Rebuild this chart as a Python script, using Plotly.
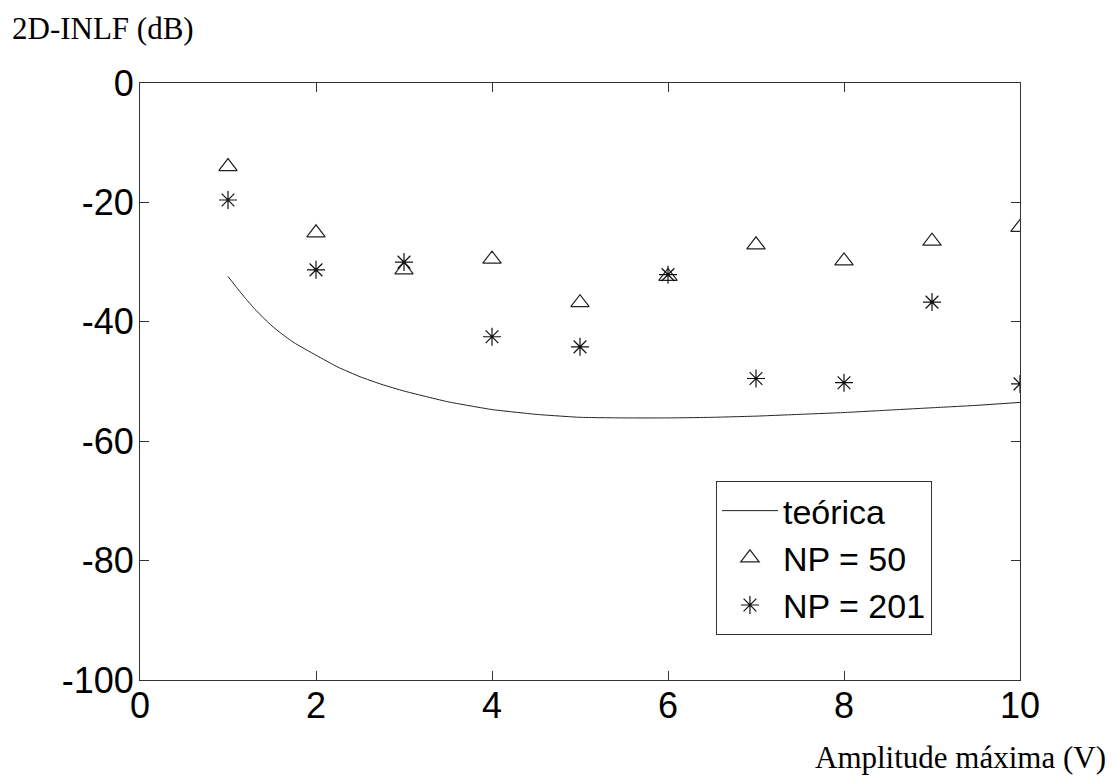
import plotly.graph_objects as go

# Data
amplitude = [1, 2, 3, 4, 5, 6, 7, 8, 9, 10]
np50 = [-14.0, -25.1, -31.3, -29.5, -36.8, -32.4, -27.1, -29.8, -26.5, -24.2]
np201 = [-19.6, -31.3, -30.0, -42.5, -44.2, -32.1, -49.5, -50.2, -36.7, -50.4]

x_theory = [1, 1.1, 1.2, 1.3, 1.4, 1.5, 1.6, 1.75, 2, 2.25, 2.5, 2.75, 3, 3.5, 4, 4.5, 5, 5.5, 6,
            6.5, 7, 7.5, 8, 8.5, 9, 9.5, 10]
y_theory = [-32.4, -34.3, -36.1, -37.8, -39.3, -40.7, -41.9, -43.5, -45.6, -47.6, -49.2, -50.5, -51.6,
            -53.4, -54.7, -55.5, -56.0, -56.1, -56.1, -56.0, -55.8, -55.5, -55.2, -54.8, -54.4, -54.0,
            -53.5]

x_ticks = [0, 2, 4, 6, 8, 10]
y_ticks = [-100, -80, -60, -40, -20, 0]

tick_font = dict(family="Liberation Sans, Arial", size=36, color="black")
serif = dict(family="Liberation Serif, Times New Roman", size=31, color="black")

fig = go.Figure()
fig.add_trace(go.Scatter(x=x_theory, y=y_theory, mode="lines", name="teórica",
                         line=dict(color="#222222", width=1, shape="spline", smoothing=0.4)))
fig.add_trace(go.Scatter(x=amplitude, y=np50, mode="markers", name="NP = 50",
                         marker=dict(symbol="triangle-up-open", size=16, color="#222222",
                                     line=dict(width=1.2, color="#222222"))))
fig.add_trace(go.Scatter(x=amplitude, y=np201, mode="markers", name="NP = 201",
                         marker=dict(symbol="asterisk-open", size=15, color="#111111",
                                     line=dict(width=1.2, color="#111111"))))

axis_common = dict(showgrid=False, zeroline=False, showline=True, linecolor="#333333", linewidth=1,
                   mirror="allticks", ticks="inside", ticklen=9, tickcolor="#333333", tickwidth=1,
                   tickfont=tick_font)

fig.update_xaxes(range=[0, 10], tickvals=x_ticks, ticktext=[str(v) for v in x_ticks],
                 ticklabelstandoff=-6, **axis_common)
fig.update_yaxes(range=[-100, 0], tickvals=y_ticks, ticktext=[str(v) for v in y_ticks],
                 ticklabelstandoff=-2, **axis_common)

fig.update_layout(
    width=1115, height=776,
    margin=dict(l=140, r=95, t=83, b=96),
    paper_bgcolor="white", plot_bgcolor="white",
    showlegend=True,
    legend=dict(x=0.6545, y=0.3333, xanchor="left", yanchor="top",
                bordercolor="#333333", borderwidth=1, bgcolor="white",
                font=dict(family="Liberation Sans, Arial", size=34, color="black"),
                tracegroupgap=0, itemwidth=56),
    annotations=[
        dict(text="2D-INLF (dB)", xref="paper", yref="paper", x=-0.148, y=1.092,
             xanchor="left", yanchor="middle", showarrow=False, font=serif),
        dict(text="Amplitude máxima (V)", xref="paper", yref="paper", x=1.1,
             y=-0.129, xanchor="right", yanchor="middle", showarrow=False, font=serif),
    ],
)

fig.write_html("out.html")
